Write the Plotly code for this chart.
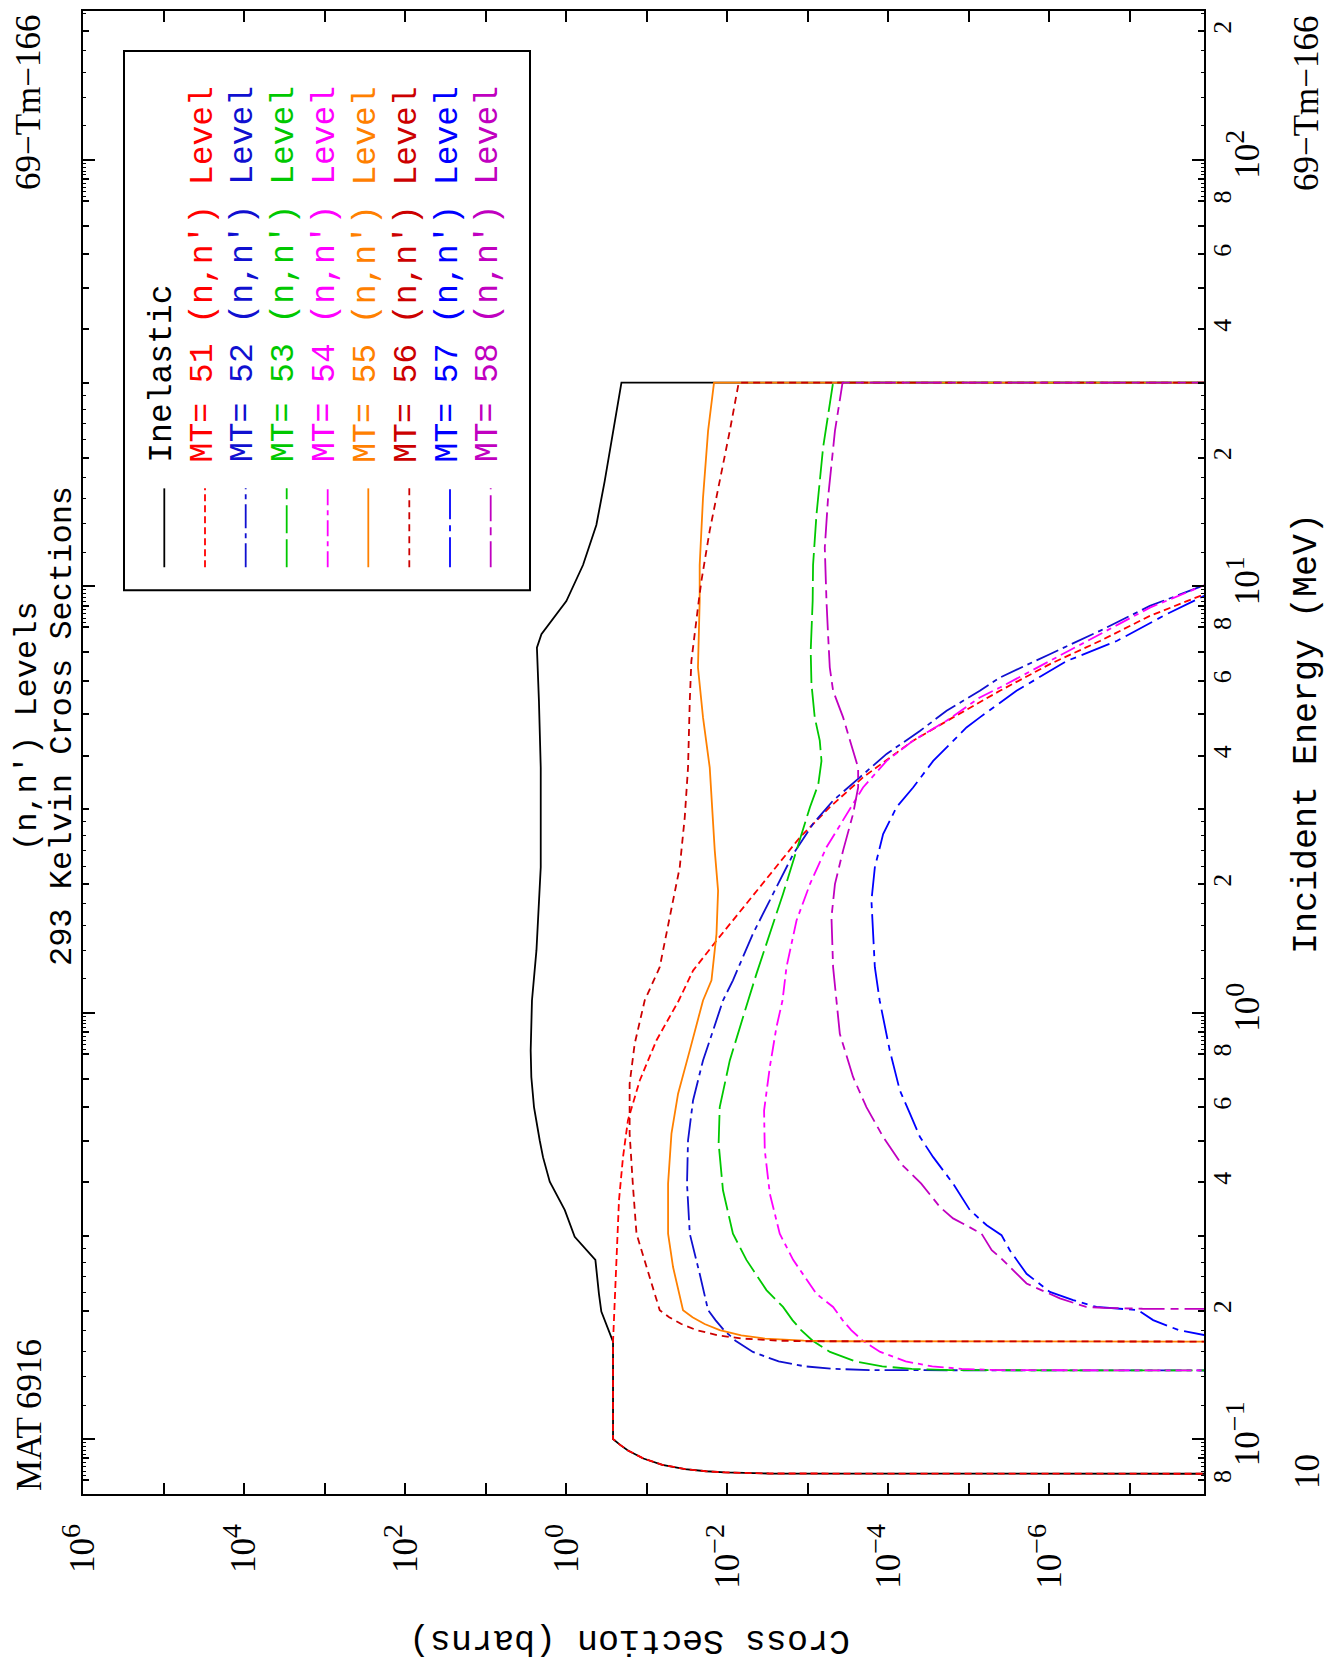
import math
import plotly.graph_objects as go

# ---------------- data (cross section in barns vs incident energy in MeV) ----------------
E_inel = [0.0828, 0.08285, 0.0830, 0.0835, 0.084, 0.085, 0.087, 0.090, 0.094, 0.097, 0.100, 0.169,
          0.199, 0.219, 0.263, 0.298, 0.344, 0.401, 0.458, 0.501, 0.600, 0.706, 0.815, 1.067, 1.40,
          2.19, 3.75, 5.38, 7.17, 7.71, 8.36, 9.22, 11.2, 13.9, 17.6, 23.1, 30.0, 30.0]
S_inel = [1e-12, 7.6e-4, 3.05e-3, 0.0107, 0.0183, 0.0335, 0.064, 0.110, 0.171, 0.216, 0.262, 0.262,
          0.366, 0.392, 0.434, 0.784, 1.04, 1.60, 1.94, 2.13, 2.51, 2.71, 2.76, 2.66, 2.34,
          2.07, 2.07, 2.18, 2.31, 2.03, 1.46, 0.995, 0.618, 0.422, 0.333, 0.262, 0.206, 1e-12]

E51 = [0.0828, 0.08285, 0.0830, 0.0835, 0.084, 0.085, 0.087, 0.090, 0.094, 0.097, 0.100, 0.169,
       0.253, 0.363, 0.458, 0.559, 0.693, 0.860, 1.067, 1.254, 1.474, 1.764, 2.15, 2.57, 3.03, 3.56,
       4.34, 4.92, 5.68, 6.56, 7.43, 8.51, 9.56, 11.0, 14.0, 30.0]
S51 = [1e-12, 7.6e-4, 3.05e-3, 0.0107, 0.0183, 0.0335, 0.064, 0.110, 0.171, 0.216, 0.262, 0.262,
       0.238, 0.221, 0.197, 0.171, 0.122, 0.0758, 0.040, 0.0266, 0.0136, 6.37e-3, 2.70e-3, 1.26e-3,
       5.33e-4, 2.06e-4, 4.92e-5, 1.57e-5, 4.12e-6, 9.86e-7, 2.36e-7, 5.65e-8, 1.2e-8, 2e-10, 1e-13, 1e-18]

E52 = [0.1445, 0.1446, 0.145, 0.146, 0.148, 0.152, 0.160, 0.170, 0.180, 0.190, 0.2005, 0.244, 0.303,
       0.397, 0.501, 0.622, 0.772, 0.907, 1.067, 1.19, 1.529, 1.897, 2.35, 2.77, 3.14, 3.56, 4.04,
       4.57, 5.10, 5.68, 6.10, 6.92, 7.85, 8.98, 10.04, 12.0, 30.0]
S52 = [1e-12, 3.1e-5, 1.55e-4, 4.6e-4, 1.08e-3, 2.3e-3, 4.8e-3, 7.9e-3, 0.011, 0.014, 0.0173, 0.0220,
       0.0292, 0.0316, 0.0307, 0.0266, 0.0200, 0.0150, 0.0113, 8.5e-3, 4.8e-3, 2.7e-3, 1.52e-3, 8.6e-4,
       4.85e-4, 2.26e-4, 1.05e-4, 4.06e-5, 1.89e-5, 7.3e-6, 4.12e-6, 9.9e-7, 2.36e-7, 5.65e-8, 1.2e-8,
       1e-10, 1e-16]

E53 = [0.1445, 0.1446, 0.145, 0.146, 0.148, 0.152, 0.160, 0.170, 0.180, 0.190, 0.204, 0.2234, 0.263,
       0.303, 0.383, 0.493, 0.600, 0.772, 0.924, 1.067, 1.232, 1.529, 1.897, 2.40, 3.03, 3.43, 3.89,
       4.34, 4.92, 5.89, 7.04, 9.22, 11.2, 14.7, 21.1, 30.0, 30.0]
S53 = [1e-12, 3.4e-6, 1.7e-5, 5.1e-5, 1.19e-4, 2.56e-4, 5.3e-4, 8.7e-4, 1.21e-3, 1.55e-3, 2.03e-3,
       3.26e-3, 5.78e-3, 8.5e-3, 0.0113, 0.0128, 0.0124, 9.3e-3, 7.0e-3, 5.5e-3, 4.34e-3, 2.96e-3,
       2.03e-3, 1.38e-3, 9.4e-4, 7.4e-4, 6.76e-4, 7.1e-4, 8.2e-4, 9.0e-4, 9.2e-4, 8.7e-4, 8.6e-4,
       7.8e-4, 6.46e-4, 4.85e-4, 1e-12]

E54 = [0.1445, 0.1446, 0.145, 0.146, 0.148, 0.152, 0.160, 0.170, 0.180, 0.190, 0.204, 0.219, 0.263,
       0.303, 0.376, 0.475, 0.589, 0.745, 0.924, 1.067, 1.277, 1.643, 2.0, 2.44, 2.92, 3.37, 3.89,
       4.34, 4.83, 5.48, 5.78, 6.67, 7.71, 8.90, 10.04, 12.0, 30.0]
S54 = [1e-12, 8.2e-7, 4.1e-6, 1.22e-5, 2.85e-5, 6.1e-5, 1.26e-4, 2.08e-4, 2.89e-4, 3.7e-4, 4.85e-4,
       7.8e-4, 1.52e-3, 2.23e-3, 2.96e-3, 3.42e-3, 3.49e-3, 2.96e-3, 2.45e-3, 2.06e-3, 1.84e-3,
       1.38e-3, 9.4e-4, 5.86e-4, 3.3e-4, 2.06e-4, 1.05e-4, 4.92e-5, 1.89e-5, 7.3e-6, 4.12e-6, 9.9e-7,
       2.36e-7, 5.65e-8, 1.2e-8, 1e-10, 1e-16]

E55 = [0.169, 0.1691, 0.1695, 0.170, 0.172, 0.175, 0.180, 0.186, 0.193, 0.2005, 0.253, 0.303, 0.397,
       0.520, 0.645, 0.815, 1.067, 1.19, 1.529, 1.93, 2.40, 3.75, 4.92, 6.44, 9.22, 11.2, 16.1, 23.1,
       30.0, 30.0]
S55 = [1e-12, 1.1e-4, 5.6e-4, 1.12e-3, 3.4e-3, 6.7e-3, 0.0124, 0.0191, 0.027, 0.0354, 0.0471, 0.0543,
       0.0543, 0.0493, 0.0408, 0.0292, 0.0200, 0.0157, 0.0136, 0.0130, 0.0143, 0.0165, 0.0200, 0.0231,
       0.0220, 0.0220, 0.0200, 0.0173, 0.0146, 1e-12]

E56 = [0.169, 0.1691, 0.1695, 0.170, 0.172, 0.175, 0.180, 0.186, 0.193, 0.2005, 0.253, 0.303, 0.390,
       0.520, 0.681, 0.845, 1.067, 1.277, 1.829, 2.19, 2.87, 3.75, 5.38, 6.67, 9.22, 10.3, 13.5, 17.6,
       23.1, 30.0, 30.0]
S56 = [1e-12, 2.2e-4, 1.1e-3, 2.2e-3, 6.6e-3, 0.0131, 0.0241, 0.0372, 0.0526, 0.069, 0.101, 0.134,
       0.148, 0.163, 0.163, 0.141, 0.106, 0.069, 0.0471, 0.0389, 0.0337, 0.0307, 0.0292, 0.0279,
       0.0226, 0.0209, 0.0165, 0.0124, 9.3e-3, 7.2e-3, 1e-12]

E57 = [0.1707, 0.175, 0.180, 0.190, 0.2005, 0.204, 0.2116, 0.2213, 0.244, 0.277, 0.3006, 0.306, 0.317,
       0.344, 0.397, 0.458, 0.511, 0.580, 0.657, 0.815, 1.067, 1.277, 1.829, 2.19, 2.62, 3.03, 3.37,
       3.89, 4.34, 4.66, 4.92, 5.68, 6.67, 7.43, 8.59, 9.48, 11.0, 30.0]
S57 = [1e-14, 1.15e-8, 2.48e-8, 5.15e-8, 7.96e-8, 2.6e-7, 5.06e-7, 9.86e-7, 1.92e-6, 3.1e-6, 3.93e-6,
       4.53e-6, 6.0e-6, 9.7e-6, 1.57e-5, 2.77e-5, 4.06e-5, 5.4e-5, 7.2e-5, 9.6e-5, 1.28e-4, 1.47e-4,
       1.62e-4, 1.47e-4, 1.16e-4, 7.9e-5, 4.92e-5, 2.77e-5, 1.57e-5, 1.07e-5, 7.3e-6, 2.56e-6, 6.1e-7,
       1.46e-7, 3.5e-8, 1.2e-8, 5e-10, 1e-16]

E58 = [0.2015, 0.2016, 0.2020, 0.2030, 0.2040, 0.2136, 0.2315, 0.267, 0.277, 0.303, 0.329, 0.350,
       0.397, 0.440, 0.511, 0.600, 0.706, 0.891, 1.067, 1.277, 1.672, 2.0, 2.40, 2.92, 3.37, 3.75,
       4.11, 4.92, 5.68, 6.44, 7.71, 9.22, 12.3, 16.1, 23.1, 30.0, 30.0]
S58 = [1e-12, 1.4e-8, 7e-8, 2.1e-7, 3.5e-7, 7.4e-7, 1.92e-6, 4.12e-6, 5.2e-6, 6.95e-6, 1.57e-5,
       2.29e-5, 3.9e-5, 6.8e-5, 1.16e-4, 1.87e-4, 2.74e-4, 4.0e-4, 4.4e-4, 4.85e-4, 5.08e-4, 4.6e-4,
       3.64e-4, 2.74e-4, 2.37e-4, 2.37e-4, 2.74e-4, 3.64e-4, 4.85e-4, 5.33e-4, 5.6e-4, 5.86e-4,
       6.15e-4, 5.6e-4, 4.6e-4, 3.7e-4, 1e-12]

LEGEND_LABELS = ["Inelastic",
                 "MT= 51 (n,n\u2032) Level", "MT= 52 (n,n\u2032) Level", "MT= 53 (n,n\u2032) Level",
                 "MT= 54 (n,n\u2032) Level", "MT= 55 (n,n\u2032) Level", "MT= 56 (n,n\u2032) Level",
                 "MT= 57 (n,n\u2032) Level", "MT= 58 (n,n\u2032) Level"]
COLORS = ["#000000", "#ff0000", "#1010d0", "#00c800", "#ff00ff", "#ff8000", "#cc0000", "#0000ff", "#c000c0"]
DASHES = ["solid", "7px,4px", "24px,5px,5px,5px", "28px,6px", "16px,5px,5px,5px", "solid",
          "7px,5px", "30px,6px,6px,6px", "26px,6px,8px,6px"]
SERIES_X = [S_inel, S51, S52, S53, S54, S55, S56, S57, S58]
SERIES_Y = [E_inel, E51, E52, E53, E54, E55, E56, E57, E58]

# axis ticks / labels
SIGMA_TICK_EXP = list(range(6, -8, -1))
SIGMA_LABEL_EXP = [6, 4, 2, 0, -2, -4, -6]
ENERGY_DECADES = [0.1, 1, 10, 100]
ENERGY_DECADE_EXP = [-1, 0, 1, 2]
ENERGY_MANT_VALS = [0.08, 0.2, 0.4, 0.6, 0.8, 2, 4, 6, 8, 20, 40, 60, 80, 200]
ENERGY_MANT_TEXT = ["8", "2", "4", "6", "8", "2", "4", "6", "8", "2", "4", "6", "8", "2"]

# ---------------- figure geometry (page body has an 8px default margin) ----------------
PAGE_W, PAGE_H = 1334, 1673
OFF = 8
W, H = PAGE_W - OFF, PAGE_H - OFF
L, R, T, B = 83, 1204, 9, 1494          # plot frame in page pixels
E_MIN, E_MAX = 0.0743, 223.0
X_RANGE = [6.0, -7.92]


def px(x, y):
    return (x - L) / (R - L), (B - y) / (B - T)


fig = go.Figure()
for sx, sy, c, d, name in zip(SERIES_X, SERIES_Y, COLORS, DASHES, LEGEND_LABELS):
    fig.add_trace(go.Scatter(x=sx, y=sy, mode="lines", name=name, showlegend=False,
                             hoverinfo="skip", line=dict(color=c, width=1.8, dash=d)))
# empty traces binding the overlay axes
fig.add_trace(go.Scatter(x=[None], y=[None], xaxis="x2", yaxis="y", showlegend=False, hoverinfo="skip"))
for ya in ("y2", "y3", "y4"):
    fig.add_trace(go.Scatter(x=[None], y=[None], yaxis=ya, showlegend=False, hoverinfo="skip"))

SERIF = "Liberation Serif"
MONO = "Liberation Mono"


def dec_label(k):
    s = str(k).replace("-", "\u2212")
    return '10<sup><span style="font-size:28px">%s</span></sup>' % s


sigma_tick_vals = [10.0 ** k for k in SIGMA_TICK_EXP]
sigma_label_vals = [10.0 ** k for k in SIGMA_LABEL_EXP]
sigma_label_text = [dec_label(k) for k in SIGMA_LABEL_EXP]

minor_vals = [m * 10.0 ** k for k in range(-2, 3) for m in range(2, 10)
              if E_MIN <= m * 10.0 ** k <= E_MAX]
tiny_m = [1.2, 1.4, 1.6, 1.8, 2.2, 2.4, 2.6, 2.8, 8.2, 8.4, 8.6, 8.8, 9.0, 9.2, 9.4, 9.6, 9.8]
tiny_vals = [m * 10.0 ** k for k in range(-2, 3) for m in tiny_m if E_MIN <= m * 10.0 ** k <= E_MAX]

yr = [math.log10(E_MIN), math.log10(E_MAX)]

fig.update_layout(
    width=W, height=H,
    margin=dict(l=L - OFF, r=PAGE_W - R, t=T - OFF, b=PAGE_H - B),
    paper_bgcolor="white", plot_bgcolor="white",
    xaxis=dict(type="log", range=X_RANGE, showgrid=False, zeroline=False,
               showline=True, linecolor="black", linewidth=2, mirror="ticks",
               ticks="inside", ticklen=11, tickwidth=2, tickcolor="black",
               tickmode="array", tickvals=sigma_tick_vals, showticklabels=False),
    xaxis2=dict(type="log", range=X_RANGE, overlaying="x", anchor="y", side="bottom",
                showgrid=False, zeroline=False, showline=False, ticks="",
                tickmode="array", tickvals=sigma_label_vals, ticktext=sigma_label_text,
                tickangle=-90, ticklabelstandoff=22,
                tickfont=dict(family=SERIF, size=35, color="black")),
    yaxis=dict(type="log", range=yr, side="right", showgrid=False, zeroline=False,
               showline=True, linecolor="black", linewidth=2, mirror="ticks",
               ticks="inside", ticklen=12, tickwidth=2, tickcolor="black",
               tickmode="array", tickvals=ENERGY_DECADES, showticklabels=False,
               minor=dict(ticks="inside", ticklen=6, tickwidth=1.5, tickcolor="black",
                          tickmode="array", tickvals=minor_vals, showgrid=False)),
    yaxis2=dict(type="log", range=yr, side="right", overlaying="y", anchor="x",
                showgrid=False, zeroline=False, showline=False, ticks="",
                tickmode="array", tickvals=ENERGY_MANT_VALS, ticktext=ENERGY_MANT_TEXT,
                tickangle=-90, ticklabelstandoff=0,
                tickfont=dict(family=SERIF, size=26, color="black")),
    yaxis3=dict(type="log", range=yr, side="right", overlaying="y", anchor="x",
                showgrid=False, zeroline=False, showline=False, mirror="ticks",
                ticks="inside", ticklen=3, tickwidth=1, tickcolor="black",
                tickmode="array", tickvals=tiny_vals, showticklabels=False),
    yaxis4=dict(type="log", range=yr, side="right", overlaying="y", anchor="x",
                showgrid=False, zeroline=False, showline=False, ticks="",
                tickmode="array", tickvals=ENERGY_DECADES,
                ticktext=[dec_label(k) for k in ENERGY_DECADE_EXP],
                tickangle=-90, ticklabelstandoff=19,
                tickfont=dict(family=SERIF, size=35, color="black")),
    showlegend=False,
)

annotations = []


def add_text(text, x, y, size=34, family=MONO, angle=-90, xanchor="center", yanchor="middle", color="black"):
    xp, yp = px(x, y)
    annotations.append(dict(text=text, x=xp, y=yp, xref="paper", yref="paper", showarrow=False,
                            textangle=angle, xanchor=xanchor, yanchor=yanchor,
                            font=dict(family=family, size=size, color=color)))


add_text("69\u2212Tm\u2212166", 29, 10, size=35, family=SERIF, yanchor="top")
add_text("MAT 6916", 29, 1493, size=35, family=SERIF, yanchor="bottom")
add_text("(n,n') Levels", 27, 725, size=32)
add_text("293 Kelvin Cross Sections", 62, 725, size=32)
add_text("69\u2212Tm\u2212166", 1307, 11, size=35, family=SERIF, yanchor="top")
add_text("Incident Energy (MeV)", 1307, 733, size=35)
add_text("10", 1307, 1472, size=35, family=SERIF)
add_text("Cross Section (barns)", 630, 1640, size=35, angle=180)

# legend (drawn rotated like the rest of the chart)
shapes = []
bx0, by0 = px(124, 589)
bx1, by1 = px(530, 49)
shapes.append(dict(type="rect", xref="paper", yref="paper", x0=bx0, y0=by0, x1=bx1, y1=by1,
                   line=dict(color="black", width=2), fillcolor="rgba(0,0,0,0)"))
ROW_X = [164.3, 205, 245.7, 286.7, 327.7, 368.3, 409.3, 450, 490.7]
for i, (lab, c, d) in enumerate(zip(LEGEND_LABELS, COLORS, DASHES)):
    rx = ROW_X[i]
    x0, y0 = px(rx, 566)
    x1, y1 = px(rx, 487)
    shapes.append(dict(type="line", xref="paper", yref="paper", x0=x0, y0=y0, x1=x1, y1=y1,
                       line=dict(color=c, width=1.8, dash=d)))
    add_text(lab, rx - 2, 463, size=33, color=c, yanchor="bottom")

fig.update_layout(annotations=annotations, shapes=shapes)
fig.write_html("out.html")
